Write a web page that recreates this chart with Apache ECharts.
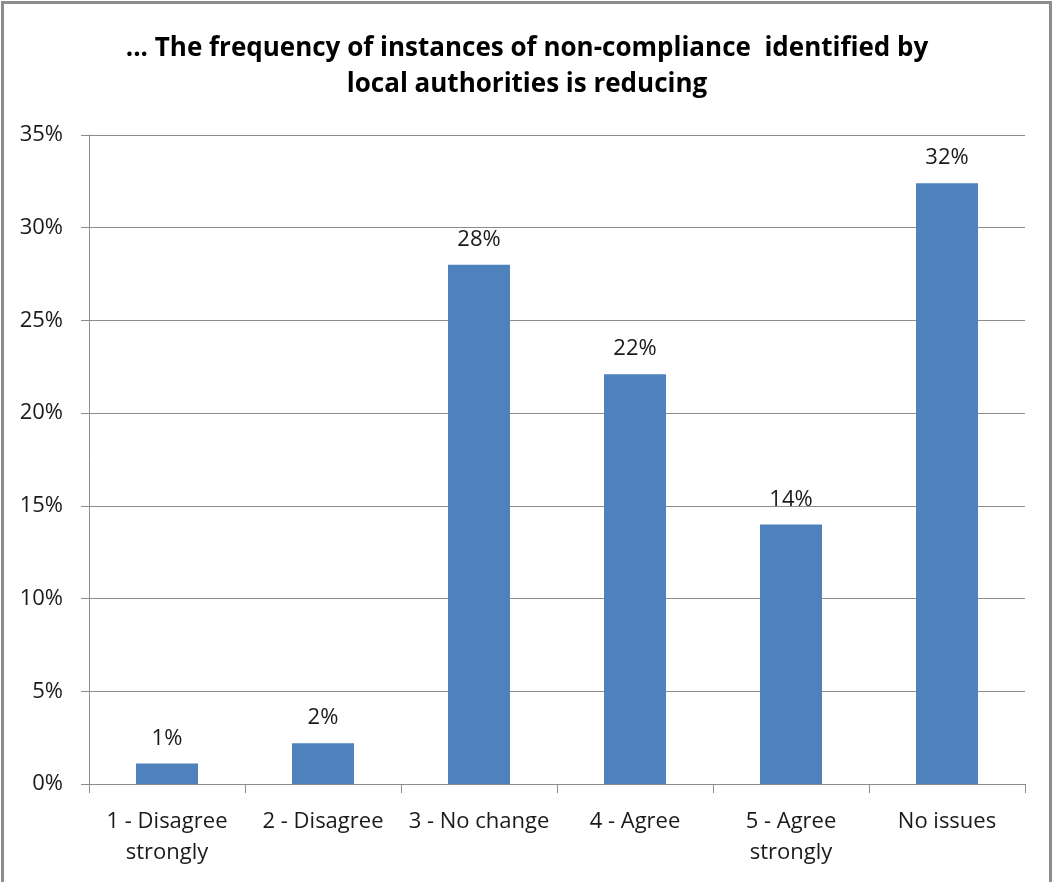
<!DOCTYPE html>
<html>
<head>
<meta charset="utf-8">
<script src="https://cdn.jsdelivr.net/npm/echarts@6/dist/echarts.min.js"></script>
<style>
  html, body { margin: 0; padding: 0; background: #fff; }
  #chart { width: 1054px; height: 882px; }
</style>
</head>
<body>
<div id="chart"></div>
<script>
// Survey responses: share of respondents per answer
const categories = ['1 - Disagree\nstrongly', '2 - Disagree', '3 - No change', '4 - Agree', '5 - Agree\nstrongly', 'No issues'];
const shares = [1.1, 2.2, 28.0, 22.1, 14.0, 32.4];
const titleText = '... The frequency of instances of non-compliance  identified by\nlocal authorities is reducing';

const FONT = '"Open Sans", sans-serif';
const chart = echarts.init(document.getElementById('chart'));

chart.setOption({
  animation: false,
  title: {
    text: titleText,
    left: 'center',
    top: 26,
    textStyle: {
      fontFamily: FONT,
      fontSize: 26,
      fontWeight: 'bold',
      color: '#000',
      lineHeight: 36,
      align: 'center'
    }
  },
  graphic: [{
    type: 'rect',
    shape: { x: 2.5, y: 2.5, width: 1048, height: 884 },
    style: { fill: 'none', stroke: '#8c8c8c', lineWidth: 3 },
    silent: true
  }],
  grid: { left: 89, right: 29, top: 135, bottom: 98 },
  xAxis: {
    type: 'category',
    data: categories,
    axisLine: { lineStyle: { color: '#8c8c8c', width: 1 } },
    axisTick: { show: true, length: 9, lineStyle: { color: '#8c8c8c' } },
    axisLabel: {
      interval: 0,
      margin: 22,
      color: '#1a1a1a',
      fontFamily: FONT,
      fontSize: 22,
      lineHeight: 31
    }
  },
  yAxis: {
    type: 'value',
    min: 0,
    max: 35,
    interval: 5,
    axisLine: { show: true, lineStyle: { color: '#8c8c8c' } },
    axisTick: { show: true, length: 8, lineStyle: { color: '#8c8c8c' } },
    splitLine: { lineStyle: { color: '#8c8c8c', width: 1 } },
    axisLabel: {
      margin: 26,
      color: '#1a1a1a',
      fontFamily: FONT,
      fontSize: 22,
      formatter: v => v + '%'
    }
  },
  series: [{
    type: 'bar',
    data: shares,
    barWidth: 62,
    itemStyle: { color: '#4f81bd' },
    label: {
      show: true,
      position: 'top',
      distance: 14,
      color: '#1a1a1a',
      fontFamily: FONT,
      fontSize: 22,
      formatter: p => Math.round(p.value) + '%'
    }
  }]
});
</script>
</body>
</html>
